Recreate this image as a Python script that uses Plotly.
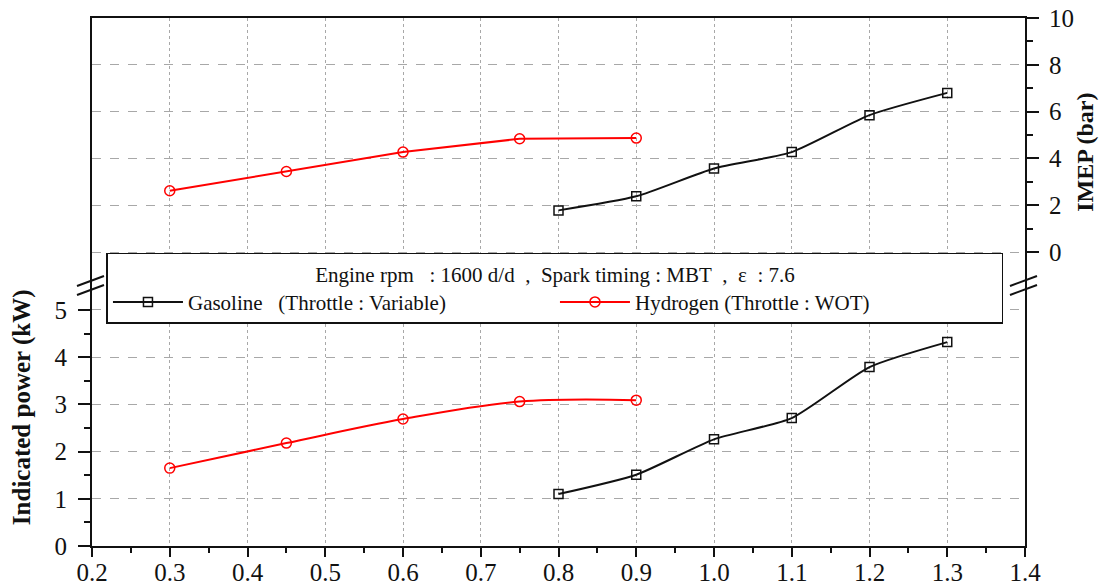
import plotly.graph_objects as go

# ---- data ----
gas_x = [0.8, 0.9, 1.0, 1.1, 1.2, 1.3]
gas_power = [1.10, 1.51, 2.26, 2.71, 3.79, 4.32]
gas_imep = [1.78, 2.38, 3.57, 4.27, 5.85, 6.80]

h2_x = [0.3, 0.45, 0.6, 0.75, 0.9]
h2_power = [1.65, 2.18, 2.69, 3.06, 3.09]
h2_imep = [2.62, 3.44, 4.27, 4.84, 4.87]

x_ticks = [0.2, 0.3, 0.4, 0.5, 0.6, 0.7, 0.8, 0.9, 1.0, 1.1, 1.2, 1.3, 1.4]
power_ticks = [0, 1, 2, 3, 4, 5]
imep_ticks = [0, 2, 4, 6, 8, 10]

legend_title = "Engine rpm\u00a0\u00a0\u00a0: 1600 d/d\u00a0\u00a0,\u00a0\u00a0Spark timing : MBT\u00a0\u00a0,\u00a0\u00a0\u03b5\u00a0\u00a0: 7.6"
gas_name = "Gasoline\u00a0\u00a0\u00a0(Throttle : Variable)"
h2_name = "Hydrogen (Throttle : WOT)"

FONT = "Liberation Serif, Times New Roman, serif"
BLACK = "#111111"
RED = "#ff0000"
GRID = "#a8a8a8"

fig = go.Figure()

# lower panel: indicated power (left axis)
fig.add_trace(go.Scatter(
    x=gas_x, y=gas_power, name=gas_name, mode="lines+markers",
    line=dict(color=BLACK, width=2, shape="spline", smoothing=0.6),
    marker=dict(symbol="square-open", size=9, color=BLACK, line=dict(width=1.5)),
    yaxis="y"))
fig.add_trace(go.Scatter(
    x=h2_x, y=h2_power, name=h2_name, mode="lines+markers",
    line=dict(color=RED, width=2, shape="spline", smoothing=1.0),
    marker=dict(symbol="circle-open", size=10, color=RED, line=dict(width=1.5)),
    yaxis="y"))

# upper panel: IMEP (right axis)
fig.add_trace(go.Scatter(
    x=gas_x, y=gas_imep, name=gas_name, mode="lines+markers", showlegend=False,
    line=dict(color=BLACK, width=2, shape="spline", smoothing=0.6),
    marker=dict(symbol="square-open", size=9, color=BLACK, line=dict(width=1.5)),
    yaxis="y2"))
fig.add_trace(go.Scatter(
    x=h2_x, y=h2_imep, name=h2_name, mode="lines+markers", showlegend=False,
    line=dict(color=RED, width=2),
    marker=dict(symbol="circle-open", size=10, color=RED, line=dict(width=1.5)),
    yaxis="y2"))

axis_font = dict(family=FONT, size=25, color=BLACK)

fig.update_layout(
    width=1101, height=580,
    margin=dict(l=84, r=84, t=10, b=42, autoexpand=False),
    paper_bgcolor="white", plot_bgcolor="white",
    font=dict(family=FONT, color=BLACK),
    xaxis=dict(
        range=[0.2, 1.4], tickvals=x_ticks, tickformat=".1f", automargin=False,
        showline=True, linecolor=BLACK, linewidth=2, mirror=True,
        ticks="outside", ticklen=9, tickwidth=2, tickcolor=BLACK,
        minor=dict(dtick=0.05, tick0=0.2, ticks="outside", ticklen=5, tickwidth=2, tickcolor=BLACK),
        showgrid=True, gridcolor=GRID, griddash="dot", gridwidth=1.2,
        tickfont=axis_font, zeroline=False,
        ticklabelstandoff=-6, ticklabeloverflow="allow",
    ),
    yaxis=dict(
        range=[0, 11.186], tickvals=power_ticks, automargin=False,
        showline=True, linecolor=BLACK, linewidth=2,
        ticks="outside", ticklen=12, tickwidth=2, tickcolor=BLACK,
        minor=dict(tickvals=[0.5, 1.5, 2.5, 3.5, 4.5], ticks="outside", ticklen=6, tickwidth=2, tickcolor=BLACK),
        showgrid=True, gridcolor=GRID, griddash="dash", gridwidth=1.2,
        tickfont=axis_font, zeroline=False,
        ticklabelstandoff=6, ticklabeloverflow="allow",
    ),
    yaxis2=dict(
        range=[-12.56, 10], tickvals=imep_ticks, overlaying="y", side="right", automargin=False,
        showline=True, linecolor=BLACK, linewidth=2,
        ticks="outside", ticklen=12, tickwidth=2, tickcolor=BLACK,
        minor=dict(tickvals=[1, 3, 5, 7, 9], ticks="outside", ticklen=6, tickwidth=2, tickcolor=BLACK),
        showgrid=True, gridcolor=GRID, griddash="dash", gridwidth=1.2,
        tickfont=axis_font, zeroline=False,
        ticklabelstandoff=5, ticklabeloverflow="allow",
    ),
    legend=dict(
        orientation="h", x=0.0155, y=0.555, xanchor="left", yanchor="top",
        bgcolor="white", bordercolor=BLACK, borderwidth=1.5,
        font=dict(family=FONT, size=21, color=BLACK),
        title=dict(text=legend_title, side="top center", font=dict(family=FONT, size=21, color=BLACK)),
        itemwidth=70, entrywidth=362, entrywidthmode="pixels",
        tracegroupgap=0,
    ),
    showlegend=True,
)

# axis titles
fig.add_annotation(text="<b>Indicated power (kW)</b>", xref="paper", yref="paper",
                   x=-0.075, y=0.263, xanchor="center", yanchor="middle",
                   textangle=-90, showarrow=False,
                   font=dict(family=FONT, size=25, color=BLACK))
fig.add_annotation(text="<b>IMEP (bar)</b>", xref="paper", yref="paper",
                   x=1.064, y=0.746, xanchor="center", yanchor="middle",
                   textangle=-90, showarrow=False,
                   font=dict(family=FONT, size=24, color=BLACK))

# axis break marks
for xp in (0.0, 1.0):
    for dy in (0, 9):
        fig.add_shape(type="line", xref="paper", yref="paper",
                      x0=xp - 15/933, x1=xp + 12/933,
                      y0=(546 - (286 + dy)) / 528, y1=(546 - (276 + dy)) / 528,
                      line=dict(color=BLACK, width=2))

fig.write_html("out.html")
